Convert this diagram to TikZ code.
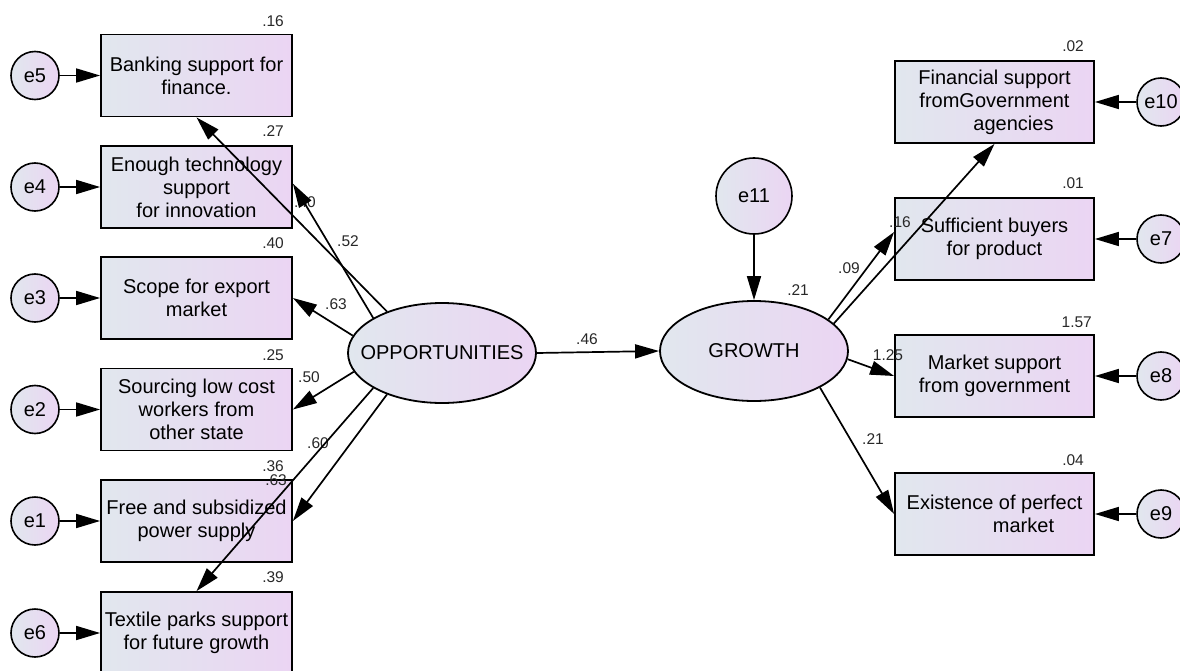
\documentclass[tikz,border=0pt]{standalone}
\usepackage{fontspec}
\setmainfont{Liberation Sans}
\usetikzlibrary{arrows.meta,shapes.geometric}
\definecolor{cA}{RGB}{225,231,238}
\definecolor{cB}{RGB}{235,213,243}
\definecolor{lbl}{RGB}{40,40,40}
\begin{document}
\begin{tikzpicture}[x=1pt,y=-1pt,
  obs/.style={draw, line width=1.8pt, left color=cA, right color=cB,
    minimum width=191pt, minimum height=82pt, inner sep=0pt, align=center,
    font=\fontsize{20}{23}\selectfont},
  obsr/.style={obs, minimum width=199pt},
  err/.style={draw, circle, line width=1.6pt, left color=cA, right color=cB,
    minimum size=48pt, inner sep=0pt, font=\fontsize{20}{23}\selectfont},
  lat/.style={draw, ellipse, line width=1.8pt, left color=cA, right color=cB,
    minimum width=188pt, minimum height=100pt, inner sep=0pt,
    font=\fontsize{20}{23}\selectfont},
  arr/.style={line width=1.7pt, -{Triangle[length=24pt,width=14pt]}},
  lab/.style={font=\fontsize{15.5}{15.5}\selectfont, text=lbl, inner sep=0pt},
  var/.style={lab, anchor=base east}]
\useasboundingbox (0,0) rectangle (1180,671);
% observed variables (left)
\node[obs] (bank) at (196.5,75.5) {Banking support for\\finance.};
\node[obs] (tech) at (196.5,187) {Enough technology\\support\\for innovation};
\node[obs] (scope) at (196.5,298) {Scope for export\\market};
\node[obs] (source) at (196.5,409.5) {Sourcing low cost\\workers from\\other state};
\node[obs] (power) at (196.5,521) {Free and subsidized\\power supply};
\node[obs] (textile) at (196.5,633) {Textile parks support\\for future growth};
% errors (left)
\node[err] (e5) at (35,75.5) {e5};
\node[err] (e4) at (35,187) {e4};
\node[err] (e3) at (35,298) {e3};
\node[err] (e2) at (35,409.5) {e2};
\node[err] (e1) at (35,521) {e1};
\node[err] (e6) at (35,633) {e6};
% observed variables (right)
\node[obsr] (fin) at (994.5,102) {Financial support\\fromGovernment\\\hspace*{38pt}agencies};
\node[obsr] (buy) at (994.5,239) {Sufficient buyers\\for product};
\node[obsr] (mkt) at (994.5,376) {Market support\\from government};
\node[obsr] (exist) at (994.5,514) {Existence of perfect\\\hspace*{58pt}market};
% errors (right)
\node[err] (e10) at (1161,102) {e10};
\node[err] (e7) at (1161,239) {e7};
\node[err] (e8) at (1161,376) {e8};
\node[err] (e9) at (1161,514) {e9};
% latent variables
\node[lat] (opp) at (442,353) {\makebox[0pt][c]{OPPORTUNITIES}};
\node[lat] (grow) at (754,351) {\makebox[0pt][c]{GROWTH}};
\node[err, minimum size=76pt] (e11) at (754,196) {e11};
% squared multiple correlations
\node[var] (v1) at (284,27) {.16};
\node[var] (v2) at (284,137) {.27};
\node[var] (v3) at (284,248) {.40};
\node[var] (v4) at (284,360) {.25};
\node[var] (v5) at (284,471) {.36};
\node[var] (v6) at (284,582) {.39};
\node[var] (v7) at (1084,52) {.02};
\node[var] (v8) at (1084,189) {.01};
\node[var] (v9) at (1092,327) {1.57};
\node[var] (v10) at (1084,465) {.04};
\node[var] (v11) at (809,295) {.21};
% path coefficients
\node[lab] (p1) at (305,202) {.40};
\node[lab] (p2) at (348,241) {.52};
\node[lab] (p3) at (336,304) {.63};
\node[lab] (p4) at (309,377) {.50};
\node[lab] (p5) at (318,443) {.60};
\node[var] (p6) at (287,485) {.63};
\node[lab] (p7) at (587,339) {.46};
\node[lab] (p8) at (900,222) {.16};
\node[lab] (p9) at (849,268) {.09};
\node[lab] (p10) at (888,355) {1.25};
\node[lab] (p11) at (873,439) {.21};
% error arrows
\draw[arr] (e5) -- (bank.west);
\draw[arr] (e4) -- (tech.west);
\draw[arr] (e3) -- (scope.west);
\draw[arr] (e2) -- (source.west);
\draw[arr] (e1) -- (power.west);
\draw[arr] (e6) -- (textile.west);
\draw[arr] (e10) -- (fin.east);
\draw[arr] (e7) -- (buy.east);
\draw[arr] (e8) -- (mkt.east);
\draw[arr] (e9) -- (exist.east);
\draw[arr] (e11) -- (grow.north);
% loadings
\draw[arr] (opp.143) -- (bank.south);
\draw[arr] (opp.153) -- (tech.2.4);
\draw[arr] (opp.169) -- (scope.east);
\draw[arr] (opp.192) -- (source.east);
\draw[arr] (opp.217) -- (power.east);
\draw[arr] (opp.207) -- (textile.north);
\draw[arr] (opp.east) -- (grow.west);
\draw[arr] (grow.19) -- (fin.south);
\draw[arr] (grow.23) -- (buy.176);
\draw[arr] (grow.-5) -- (mkt.west);
\draw[arr] (grow.-29) -- (exist.west);
\end{tikzpicture}
\end{document}
